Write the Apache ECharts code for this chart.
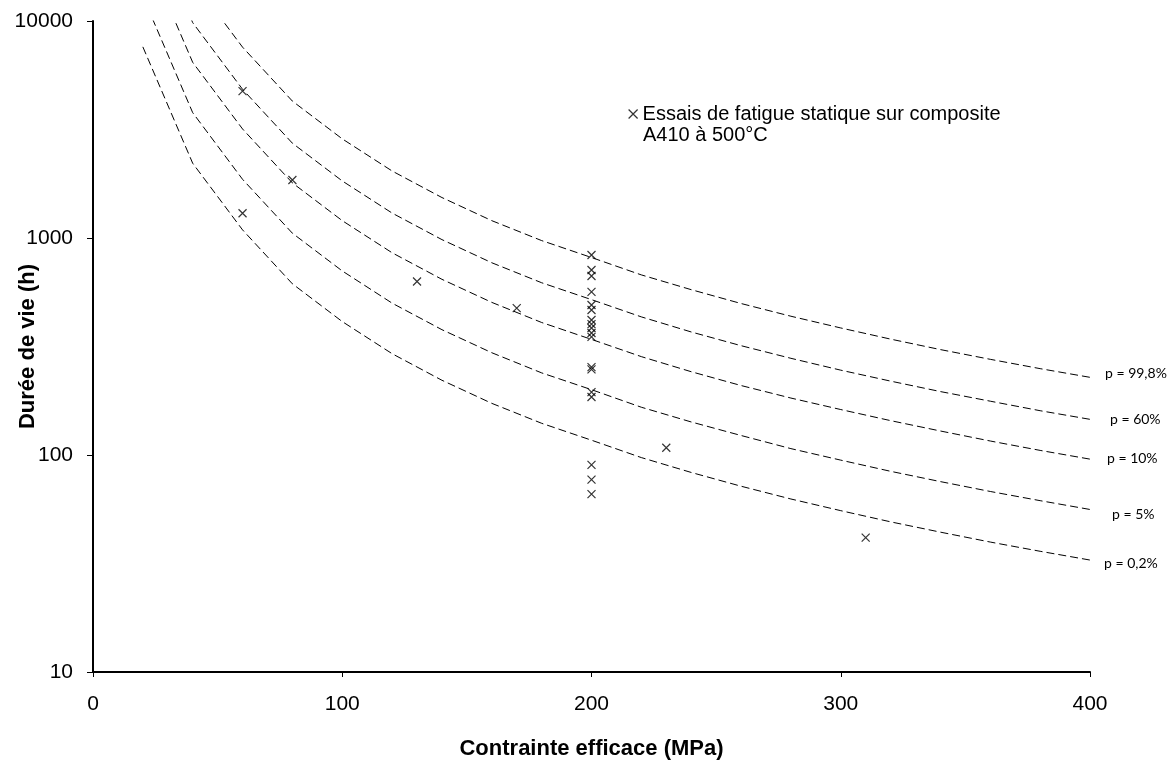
<!DOCTYPE html>
<html>
<head>
<meta charset="utf-8">
<script src="https://cdn.jsdelivr.net/npm/echarts@6/dist/echarts.min.js"></script>
<style>
html,body{margin:0;padding:0;background:#fff;}
#chart{width:1176px;height:767px;}
</style>
</head>
<body>
<div id="chart"></div>
<script>
// Stress values (MPa) at which the probability curves are tabulated
const stress = [20, 40, 60, 80, 100, 120, 140, 160, 180, 200, 220, 240, 260, 280, 300, 320, 340, 360, 380, 400];
// Lifetime (h) curves for each failure probability
const curveP02  = [7600, 2210, 1090, 615, 412, 293, 221, 173, 140, 117, 97.3, 83.1, 71.8, 62.7, 55.4, 49.2, 44.1, 39.7, 36.0, 32.8];
const curveP5   = [13000, 3780, 1864, 1052, 705, 501, 378, 296, 239, 200, 166, 142, 123, 107, 94.7, 84.1, 75.4, 67.9, 61.6, 56.1];
const curveP10  = [22170, 6447, 3180, 1794, 1202, 855, 645, 505, 408, 341, 284, 242, 209, 183, 162, 144, 129, 116, 105, 95.7];
const curveP60  = [33790, 9826, 4846, 2734, 1832, 1303, 983, 769, 622, 520, 433, 369, 319, 279, 246, 219, 196, 177, 160, 146];
const curveP998 = [52820, 15360, 7576, 4274, 2863, 2036, 1536, 1202, 973, 813, 676, 578, 499, 436, 385, 342, 306, 276, 250, 228];
const curveLabels = ['p = 0,2%', 'p = 5%', 'p = 10%', 'p = 60%', 'p = 99,8%'];

// Static fatigue tests
const testStress = [60, 60, 80, 130, 170,
  200, 200, 200, 200, 200, 200, 200, 200, 200, 200, 200, 200, 200, 200, 200, 200, 200, 200,
  230, 310];
const testLife = [4750, 1300, 1850, 630, 475,
  835, 712, 668, 565, 491, 466, 419, 401, 385, 365, 350, 254, 248, 195, 185, 90, 77, 66,
  108, 41.6];

const yTicks = ['10', '100', '1000', '10000'];
const xTicks = ['0', '100', '200', '300', '400'];
const legendLine1 = 'Essais de fatigue statique sur composite';
const legendLine2 = 'A410 à 500°C';

const xPath = 'path://M0,0L10,10M0,10L10,0';
const chart = echarts.init(document.getElementById('chart'), null, {renderer: 'canvas'});

const curves = [curveP02, curveP5, curveP10, curveP60, curveP998];
const labelOffsets = [[14, 3], [22, 5], [17, -1], [20, 0], [15, -4]];

const series = curves.map((c, i) => ({
  name: curveLabels[i],
  type: 'line',
  data: stress.map((s, j) => [s, c[j]]),
  symbol: 'none',
  clip: true,
  silent: true,
  lineStyle: {color: '#000', width: 1, type: [8, 4]},
  endLabel: {
    show: true,
    formatter: curveLabels[i],
    distance: 0,
    offset: labelOffsets[i],
    color: '#000',
    fontFamily: 'Lato',
    fontSize: 14
  },
  z: 2
}));

series.push({
  name: legendLine1,
  type: 'scatter',
  data: testStress.map((s, j) => [s, testLife[j]]),
  symbol: xPath,
  symbolSize: 8,
  itemStyle: {color: '#000', borderColor: '#000', borderWidth: 1.2},
  z: 3
});

chart.setOption({
  animation: false,
  backgroundColor: '#fff',
  textStyle: {fontFamily: 'Liberation Sans', color: '#000'},
  grid: {left: 93, right: 86, top: 21, bottom: 95, containLabel: false, outerBoundsMode: 'none'},
  legend: {
    data: [{name: legendLine1, icon: xPath, itemStyle: {color: '#000', borderColor: '#000', borderWidth: 1.2}}],
    left: 628,
    top: 104,
    padding: 0,
    itemWidth: 9,
    itemHeight: 9,
    selectedMode: false,
    textStyle: {fontFamily: 'Liberation Sans', fontSize: 20, color: '#000'}
  },
  graphic: [{
    type: 'text',
    left: 643,
    top: 125,
    style: {text: legendLine2, font: '20px "Liberation Sans"', fill: '#000'}
  }],
  xAxis: {
    type: 'value',
    min: 0,
    max: 400,
    interval: 100,
    name: 'Contrainte efficace (MPa)',
    nameLocation: 'middle',
    nameGap: 66,
    nameMoveOverlap: false,
    nameTextStyle: {fontFamily: 'Liberation Sans', fontWeight: 'bold', fontSize: 22, color: '#000'},
    axisLine: {show: true, onZero: false, lineStyle: {color: '#000', width: 2}},
    axisTick: {show: true, inside: false, length: 5, lineStyle: {color: '#000', width: 1}},
    axisLabel: {margin: 22, fontSize: 21, color: '#000', fontFamily: 'Liberation Sans',
      formatter: v => xTicks[xTicks.indexOf(String(v))] ?? String(v)},
    splitLine: {show: false}
  },
  yAxis: {
    type: 'log',
    logBase: 10,
    min: 10,
    max: 10000,
    name: 'Durée de vie (h)',
    nameLocation: 'middle',
    nameGap: 54,
    nameMoveOverlap: false,
    nameTextStyle: {fontFamily: 'Liberation Sans', fontWeight: 'bold', fontSize: 22, color: '#000'},
    axisLine: {show: true, lineStyle: {color: '#000', width: 2}},
    axisTick: {show: true, inside: false, length: 6, lineStyle: {color: '#000', width: 1}},
    axisLabel: {margin: 20, fontSize: 21, color: '#000', fontFamily: 'Liberation Sans',
      formatter: v => yTicks[yTicks.indexOf(String(Math.round(v)))] ?? String(v)},
    splitLine: {show: false},
    minorTick: {show: false}
  },
  series: series
});
</script>
</body>
</html>
